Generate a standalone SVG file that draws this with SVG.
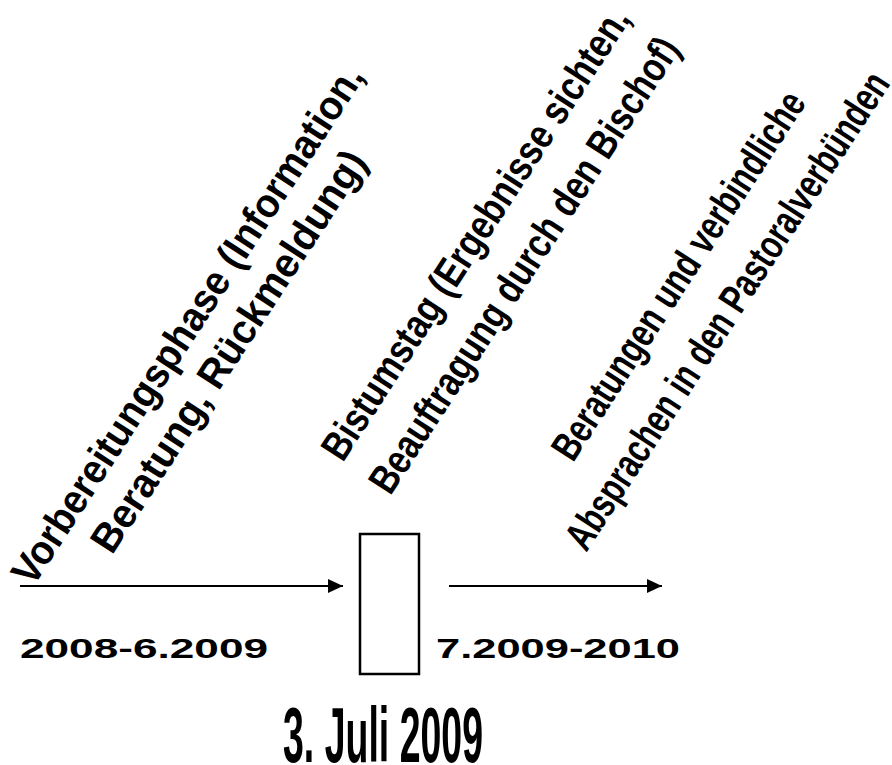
<svg xmlns="http://www.w3.org/2000/svg" width="892" height="765" viewBox="0 0 892 765">
<style>
.rt{font-family:"Liberation Sans",Arial,sans-serif;font-weight:bold;font-size:41px;fill:#000;text-anchor:middle}
.lbl{font-family:"Liberation Sans",Arial,sans-serif;font-weight:bold;fill:#000}
.big{font-family:"Liberation Sans",Arial,sans-serif;font-weight:bold;fill:#000}
.conn{stroke:#000;stroke-width:2;fill:none}
</style>
<defs>
<marker id="ah" markerUnits="userSpaceOnUse" markerWidth="16" markerHeight="16" viewBox="0 0 16 16" refX="15" refY="8" orient="auto">
<path d="M0,1 L15,8 L0,15 Z" fill="#000"/>
</marker>
</defs>
<rect width="892" height="765" fill="#fff"/>
<g id="phase1">
<g transform="translate(199,332) rotate(-57)">
<text class="rt" x="0" y="0" textLength="610" lengthAdjust="spacingAndGlyphs">Vorbereitungsphase (Information,</text>
<text class="rt" x="0" y="49" textLength="470" lengthAdjust="spacingAndGlyphs">Beratung, Rückmeldung)</text>
</g>
</g>
<g id="bistumstag">
<g transform="translate(487,241) rotate(-57)">
<text class="rt" x="0" y="0" textLength="530" lengthAdjust="spacingAndGlyphs">Bistumstag (Ergebnisse sichten,</text>
<text class="rt" x="0" y="58" textLength="534" lengthAdjust="spacingAndGlyphs">Beauftragung durch den Bischof)</text>
</g>
</g>
<g id="phase2">
<g transform="translate(690,283) rotate(-57)">
<text class="rt" x="0" y="0" textLength="430" lengthAdjust="spacingAndGlyphs">Beratungen und verbindliche</text>
<text class="rt" x="-3" y="60" textLength="560" lengthAdjust="spacingAndGlyphs">Absprachen in den Pastoralverbünden</text>
</g>
</g>
<g id="date-box">
<rect x="360" y="534" width="59" height="140" fill="#fff" stroke="#000" stroke-width="2.5"/>
</g>
<g id="labels">
<text class="lbl" x="20" y="658" font-size="27" textLength="248" lengthAdjust="spacingAndGlyphs">2008-6.2009</text>
<text class="lbl" x="436" y="658" font-size="27" textLength="244" lengthAdjust="spacingAndGlyphs">7.2009-2010</text>
<text class="big" x="283" y="762" font-size="77" textLength="200" lengthAdjust="spacingAndGlyphs">3. Juli 2009</text>
</g>
<g id="connectors">
<line class="conn" x1="20" y1="586" x2="343" y2="586" marker-end="url(#ah)"/>
<line class="conn" x1="449" y1="586" x2="662" y2="586" marker-end="url(#ah)"/>
</g>
</svg>
